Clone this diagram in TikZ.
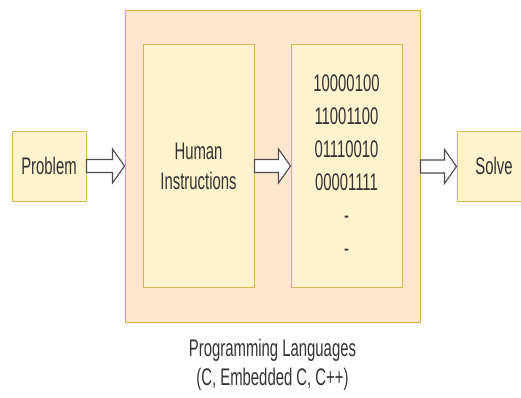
\documentclass[tikz,border=0pt]{standalone}
\usepackage{fontspec}
\setmainfont{Liberation Sans}[FakeStretch=0.62]
\usetikzlibrary{calc,positioning}
\definecolor{peach}{HTML}{FFE6CC}
\definecolor{cream}{HTML}{FFF2CC}
\definecolor{goldline}{HTML}{D6B656}
\definecolor{orangeline}{HTML}{E3AA45}
\definecolor{inkgray}{HTML}{333333}
\begin{document}
\begin{tikzpicture}[x=1pt,y=1pt]
        \tikzset{box/.style = {draw=goldline,fill=cream,line width=1pt,text=inkgray,align=center,font=\fontsize{24}{30}\selectfont}}
        \tikzset{langbox/.style = {draw=orangeline,fill=peach,line width=1pt}}
        \tikzset{blockarrow/.style = {draw=black!70,fill=white,line width=1.1pt,line join=miter}}

        \useasboundingbox (0,0) rectangle (521,397);

        \node[langbox,minimum width=295,minimum height=311] (lang) at (272.5,230.5) {};

        \node[box,minimum width=74,minimum height=70] (problem) at (49,231) {Problem};
        \node[box,minimum width=111,minimum height=242] (human) at (198.5,231) {Human\\Instructions};
        \node[box,minimum width=111,minimum height=242,font=\fontsize{24}{33}\selectfont] (bits) at (346.5,231)
            {10000100\\11001100\\01110010\\00001111\\-\\-};
        \node[box,minimum width=74,minimum height=70] (solve) at (494,231) {Solve};

        \node[below=16 of lang,inner sep=0,align=center,text=inkgray,font=\fontsize{24}{29}\selectfont] (caption)
            {Programming Languages\\(C, Embedded C, C++)};

        % hollow arrows between the stages
        \foreach \a/\b in {problem/lang,human/bits,lang/solve}
            \draw[blockarrow] ($(\a.east)+(0,6.5)$) -- ($(\b.west |- \a.east)+(-12,6.5)$) -- ++(0,10.5)
                -- (\b.west |- \a.east) -- ++(-12,-17) -- ++(0,10.5) -- ($(\a.east)+(0,-6.5)$) -- cycle;
    \end{tikzpicture}
\end{document}
